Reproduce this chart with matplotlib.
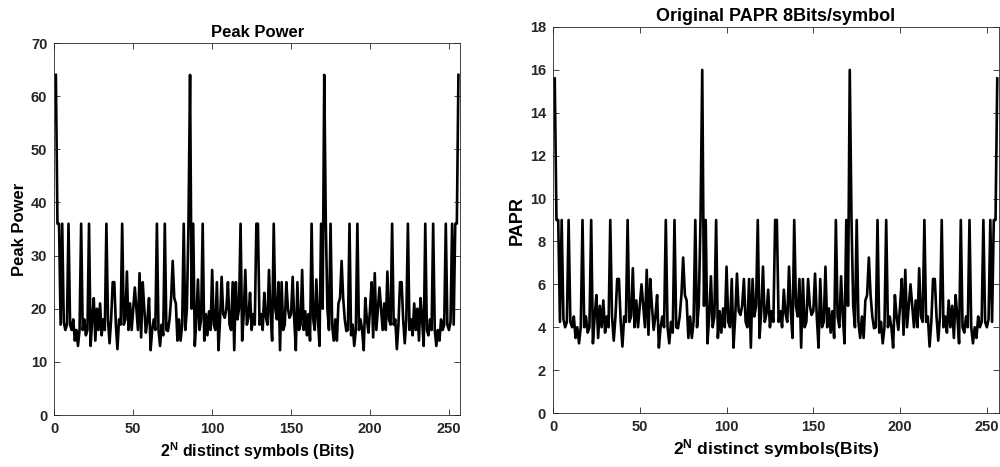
import numpy as np
import matplotlib
matplotlib.use('Agg')
import matplotlib.pyplot as plt

plt.rcParams['font.family'] = ['Liberation Sans', 'DejaVu Sans']
plt.rcParams['mathtext.fontset'] = 'custom'
plt.rcParams['mathtext.rm'] = 'Liberation Sans'
plt.rcParams['mathtext.bf'] = 'Liberation Sans:bold'

# peak power for symbols 0..127
# (the curve is mirror symmetric, symbol i and 255-i have the same value)
peak_half = [64, 36, 36, 17, 36, 17.5, 16, 17, 36, 17,
             16, 18, 14, 16, 13, 16, 36, 16, 18, 15,
             16, 36, 13, 18, 22, 14, 20, 16, 21, 15,
             18, 16, 36, 18, 13.5, 18, 25, 25, 17, 12.4,
             18, 17, 36, 17, 18, 27, 16, 21, 16, 20,
             24, 20, 16, 26.7, 14.6, 25, 20, 15.5, 18, 22,
             12.2, 16, 18, 16, 36, 16, 13, 17, 15, 36,
             16, 15.8, 18, 22, 29, 22, 21, 14, 18, 14,
             17, 36, 16, 20, 36, 64, 20, 36, 13, 18,
             25.5, 16, 18, 36, 14, 19, 15, 19.5, 16, 27.3,
             17, 16, 25, 12.2, 18, 26, 19, 18.3, 20, 25,
             17, 16, 25, 12.2, 25, 18, 20, 36, 14, 19,
             27.3, 17, 18.5, 23, 16, 19, 17, 36]
peak_power = peak_half + peak_half[::-1]

# right panel is the left one over the mean power (4); end spikes read 15.6
papr_half = [15.6] + [v / 4 for v in peak_half[1:]]
papr = papr_half + papr_half[::-1]

symbols = np.arange(1, 257)

fig = plt.figure(figsize=(10, 4.67), dpi=100)
ax1 = fig.add_axes([0.0543, 0.1113, 0.4057, 0.7966])
ax2 = fig.add_axes([0.553, 0.1156, 0.446, 0.8266])

def style(ax):
    ax.tick_params(direction='in', top=True, right=True, length=4, width=0.6,
                   labelsize=10.5, colors='#262626', pad=5)
    for lab in ax.get_xticklabels() + ax.get_yticklabels():
        lab.set_fontweight('bold')
    for s in ax.spines.values():
        s.set_linewidth(0.6)
        s.set_color('#262626')

ax1.plot(symbols, peak_power, color='black', lw=1.9)
ax1.set_xlim(0, 257)
ax1.set_ylim(0, 70)
ax1.set_xticks(range(0, 251, 50))
ax1.set_yticks(range(0, 71, 10))
style(ax1)
ax1.set_title('Peak Power', fontsize=12, fontweight='bold', pad=4)
ax1.set_xlabel(r'$\mathbf{2^N}$ distinct symbols (Bits)', fontsize=11.5, fontweight='bold', labelpad=3)
ax1.set_ylabel('Peak Power', fontsize=12, fontweight='bold', labelpad=3)

ax2.plot(symbols, papr, color='black', lw=1.9)
ax2.set_xlim(0, 257)
ax2.set_ylim(0, 18)
ax2.set_xticks(range(0, 251, 50))
ax2.set_yticks(range(0, 19, 2))
style(ax2)
ax2.set_title('Original PAPR 8Bits/symbol', fontsize=13, fontweight='bold', pad=4)
ax2.set_xlabel(r'$\mathbf{2^N}$ distinct symbols(Bits)', fontsize=12.5, fontweight='bold', labelpad=2)
ax2.set_ylabel('PAPR', fontsize=13, fontweight='bold', labelpad=3)

fig.savefig('out.png', dpi=100)
